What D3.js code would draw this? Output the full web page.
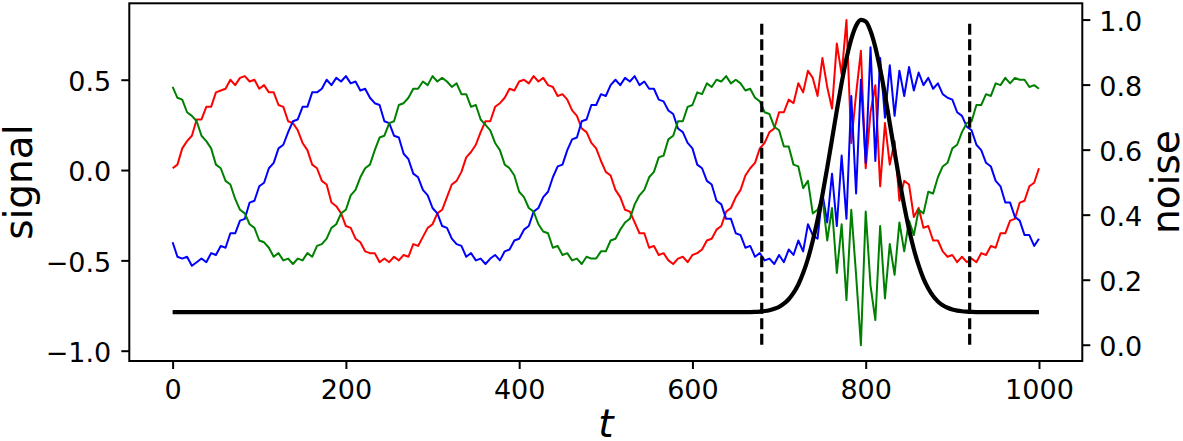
<!DOCTYPE html>
<html>
<head>
<meta charset="utf-8">
<script src="https://cdn.jsdelivr.net/npm/d3@7"></script>
<style>
    body { margin: 0; background: #fff; }
    svg { display: block; font-family: "DejaVu Sans", sans-serif; }
</style>
</head>
<body>
<svg width="1183" height="441"></svg>
<script>
// sample grid: 181 samples across t = 0..1000
var tValues = d3.range(181).map(i => i * 1000 / 180);

var redSignal = [
    0.01, 0.03, 0.12, 0.16, 0.19, 0.28, 0.28, 0.35, 0.35, 0.43,
    0.44, 0.45, 0.50, 0.47, 0.51, 0.52, 0.49, 0.50, 0.45, 0.47,
    0.43, 0.43, 0.36, 0.35, 0.27, 0.26, 0.22, 0.15, 0.11, 0.03,
    0.01, -0.06, -0.08, -0.18, -0.20, -0.24, -0.31, -0.32, -0.38, -0.40,
    -0.45, -0.46, -0.46, -0.51, -0.49, -0.51, -0.48, -0.50, -0.47, -0.48,
    -0.41, -0.42, -0.37, -0.32, -0.30, -0.24, -0.22, -0.15, -0.08, -0.06,
    -0.01, 0.07, 0.10, 0.14, 0.21, 0.27, 0.27, 0.35, 0.37, 0.40,
    0.45, 0.44, 0.49, 0.50, 0.48, 0.52, 0.49, 0.51, 0.47, 0.46,
    0.41, 0.42, 0.39, 0.33, 0.30, 0.23, 0.21, 0.15, 0.12, 0.05,
    -0.01, -0.03, -0.11, -0.15, -0.22, -0.23, -0.29, -0.35, -0.35, -0.43,
    -0.42, -0.47, -0.46, -0.50, -0.52, -0.49, -0.48, -0.51, -0.47, -0.46,
    -0.44, -0.39, -0.38, -0.33, -0.31, -0.23, -0.21, -0.15, -0.11, -0.03,
    0.01, 0.04, 0.12, 0.15, 0.21, 0.23, 0.32, 0.32, 0.39, 0.37,
    0.48, 0.43, 0.55, 0.51, 0.41, 0.62, 0.46, 0.34, 0.70, 0.53,
    0.83, 0.15, 0.42, 0.66, 0.01, 0.32, 0.47, -0.09, 0.26, 0.03,
    0.16, -0.17, -0.06, -0.08, -0.26, -0.21, -0.32, -0.31, -0.39, -0.39,
    -0.45, -0.48, -0.47, -0.51, -0.48, -0.51, -0.49, -0.51, -0.46, -0.47,
    -0.42, -0.43, -0.35, -0.35, -0.28, -0.27, -0.18, -0.17, -0.09, -0.07,
    0.01
];

var greenSignal = [
    0.46, 0.40, 0.39, 0.32, 0.30, 0.27, 0.19, 0.16, 0.12, 0.03,
    0.01, -0.06, -0.08, -0.16, -0.22, -0.24, -0.30, -0.32, -0.39, -0.40,
    -0.43, -0.48, -0.46, -0.50, -0.49, -0.52, -0.49, -0.50, -0.46, -0.48,
    -0.42, -0.41, -0.38, -0.32, -0.30, -0.24, -0.22, -0.14, -0.11, -0.04,
    0.01, 0.03, 0.11, 0.18, 0.19, 0.26, 0.27, 0.36, 0.37, 0.40,
    0.45, 0.45, 0.49, 0.47, 0.52, 0.49, 0.51, 0.49, 0.46, 0.48,
    0.42, 0.42, 0.35, 0.36, 0.28, 0.25, 0.22, 0.15, 0.11, 0.03,
    0.01, -0.03, -0.12, -0.15, -0.21, -0.23, -0.30, -0.34, -0.35, -0.43,
    -0.42, -0.47, -0.46, -0.50, -0.49, -0.52, -0.48, -0.49, -0.49, -0.45,
    -0.45, -0.39, -0.38, -0.33, -0.29, -0.27, -0.19, -0.14, -0.11, -0.04,
    -0.01, 0.07, 0.08, 0.17, 0.19, 0.27, 0.27, 0.35, 0.36, 0.43,
    0.42, 0.48, 0.46, 0.50, 0.49, 0.52, 0.48, 0.50, 0.48, 0.44,
    0.45, 0.40, 0.38, 0.32, 0.31, 0.24, 0.22, 0.13, 0.13, 0.03,
    0.02, -0.10, -0.06, -0.24, -0.22, -0.15, -0.39, -0.21, -0.57, -0.30,
    -0.72, -0.22, -0.58, -0.97, -0.23, -0.64, -0.83, -0.31, -0.71, -0.41,
    -0.58, -0.29, -0.45, -0.28, -0.36, -0.22, -0.24, -0.12, -0.13, -0.04,
    0.02, 0.04, 0.12, 0.14, 0.21, 0.26, 0.27, 0.36, 0.36, 0.42,
    0.41, 0.48, 0.47, 0.51, 0.48, 0.51, 0.50, 0.50, 0.46, 0.47,
    0.45
];

var blueSignal = [
    -0.40, -0.48, -0.49, -0.48, -0.53, -0.51, -0.49, -0.51, -0.46, -0.47,
    -0.42, -0.43, -0.35, -0.35, -0.28, -0.27, -0.18, -0.17, -0.09, -0.07,
    0.01, 0.04, 0.12, 0.14, 0.21, 0.27, 0.28, 0.35, 0.35, 0.43,
    0.43, 0.45, 0.50, 0.47, 0.51, 0.49, 0.52, 0.48, 0.49, 0.44,
    0.45, 0.40, 0.37, 0.36, 0.27, 0.26, 0.19, 0.18, 0.09, 0.06,
    -0.02, -0.04, -0.11, -0.14, -0.21, -0.24, -0.31, -0.32, -0.38, -0.41,
    -0.42, -0.48, -0.46, -0.50, -0.49, -0.52, -0.49, -0.47, -0.50, -0.45,
    -0.44, -0.39, -0.38, -0.33, -0.31, -0.23, -0.21, -0.15, -0.12, -0.04,
    0.02, 0.03, 0.11, 0.17, 0.18, 0.27, 0.28, 0.36, 0.36, 0.42,
    0.41, 0.47, 0.50, 0.47, 0.51, 0.49, 0.52, 0.47, 0.49, 0.45,
    0.45, 0.39, 0.38, 0.33, 0.31, 0.23, 0.21, 0.15, 0.12, 0.03,
    0.01, -0.06, -0.08, -0.17, -0.19, -0.27, -0.27, -0.35, -0.36, -0.43,
    -0.42, -0.48, -0.46, -0.50, -0.49, -0.52, -0.47, -0.51, -0.44, -0.47,
    -0.39, -0.45, -0.30, -0.36, -0.38, -0.13, -0.29, -0.02, -0.31, 0.08,
    -0.27, 0.41, -0.13, 0.50, 0.04, 0.68, 0.05, 0.62, 0.29, 0.58,
    0.30, 0.55, 0.41, 0.57, 0.44, 0.54, 0.47, 0.51, 0.45, 0.48,
    0.42, 0.40, 0.39, 0.32, 0.30, 0.24, 0.22, 0.14, 0.11, 0.04,
    0.02, -0.06, -0.09, -0.18, -0.18, -0.26, -0.28, -0.36, -0.36, -0.42,
    -0.38
];

// noise level on the right axis, same grid
var noiseLevel = [
    0.1, 0.1, 0.1, 0.1, 0.1, 0.1, 0.1, 0.1, 0.1, 0.1,
    0.1, 0.1, 0.1, 0.1, 0.1, 0.1, 0.1, 0.1, 0.1, 0.1,
    0.1, 0.1, 0.1, 0.1, 0.1, 0.1, 0.1, 0.1, 0.1, 0.1,
    0.1, 0.1, 0.1, 0.1, 0.1, 0.1, 0.1, 0.1, 0.1, 0.1,
    0.1, 0.1, 0.1, 0.1, 0.1, 0.1, 0.1, 0.1, 0.1, 0.1,
    0.1, 0.1, 0.1, 0.1, 0.1, 0.1, 0.1, 0.1, 0.1, 0.1,
    0.1, 0.1, 0.1, 0.1, 0.1, 0.1, 0.1, 0.1, 0.1, 0.1,
    0.1, 0.1, 0.1, 0.1, 0.1, 0.1, 0.1, 0.1, 0.1, 0.1,
    0.1, 0.1, 0.1, 0.1, 0.1, 0.1, 0.1, 0.1, 0.1, 0.1,
    0.1, 0.1, 0.1, 0.1, 0.1, 0.1, 0.1, 0.1, 0.1, 0.1,
    0.1, 0.1, 0.1, 0.1, 0.1, 0.1, 0.1, 0.1, 0.1, 0.1,
    0.1, 0.1, 0.1, 0.1, 0.1, 0.1, 0.1, 0.1, 0.1002, 0.1003,
    0.1006, 0.1012, 0.1021, 0.1037, 0.1063, 0.1104, 0.1167, 0.1263, 0.1399, 0.1593,
    0.1853, 0.2203, 0.2644, 0.3197, 0.3844, 0.4604, 0.5442, 0.6314, 0.721, 0.805,
    0.880, 0.940, 0.981, 0.999, 0.994, 0.965, 0.915, 0.848, 0.769, 0.681,
    0.593, 0.506, 0.427, 0.355, 0.2936, 0.244, 0.2035, 0.1731, 0.1498, 0.1333,
    0.1215, 0.1137, 0.1084, 0.1050, 0.1029, 0.1017, 0.1009, 0.1005, 0.1003, 0.1001,
    0.1, 0.1, 0.1, 0.1, 0.1, 0.1, 0.1, 0.1, 0.1, 0.1,
    0.1
];

var windowEdges = [680, 920];

var xTicks = [0, 200, 400, 600, 800, 1000];
var leftTicks = [-1.0, -0.5, 0.0, 0.5];
var rightTicks = [0.0, 0.2, 0.4, 0.6, 0.8, 1.0];

var svg = d3.select('svg');

// plot box
var plotLeft = 129.3, plotRight = 1082.3, plotTop = 3.3, plotBottom = 361;
var midY = (plotTop + plotBottom) / 2;

var xScale = d3.scaleLinear().domain([-50, 1050]).range([plotLeft, plotRight]);
var ySignal = d3.scaleLinear().domain([-1.057, 0.923]).range([plotBottom, plotTop]);
var yNoise = d3.scaleLinear().domain([-0.05, 1.05]).range([plotBottom, plotTop]);

var fmtMinus = f => (v => f(v).replace('-', '\u2212'));

//Axes
var xAxis = d3.axisBottom(xScale).tickValues(xTicks).tickSize(8).tickSizeOuter(0).tickPadding(11)
    .tickFormat(d3.format('d'));
var yAxisL = d3.axisLeft(ySignal).tickValues(leftTicks).tickSize(8).tickSizeOuter(0).tickPadding(10)
    .tickFormat(fmtMinus(d3.format('.1f')));
var yAxisR = d3.axisRight(yNoise).tickValues(rightTicks).tickSize(8).tickSizeOuter(0).tickPadding(9)
    .tickFormat(d3.format('.1f'));

var styleAxis = g => {
    g.select('.domain').remove();
    g.selectAll('.tick line').attr('stroke', '#000').attr('stroke-width', 2);
    g.selectAll('.tick text')
        .attr('fill', '#000')
        .attr('font-size', 27)
        .attr('font-family', '"DejaVu Sans", sans-serif');
};

svg.append('g').attr('transform', `translate(0,${plotBottom})`).call(xAxis).call(styleAxis);
svg.append('g').attr('transform', `translate(${plotLeft},0)`).call(yAxisL).call(styleAxis)
    .selectAll('.tick text').attr('dy', '0.40em');
svg.append('g').attr('transform', `translate(${plotRight},0)`).call(yAxisR).call(styleAxis)
    .selectAll('.tick text').attr('dy', '0.40em');

//Signal lines
var signalLine = d3.line()
    .x((d, i) => xScale(tValues[i]))
    .y(d => ySignal(d));

var series = [
    {values: redSignal, color: '#ff0000'},
    {values: blueSignal, color: '#0000ff'},
    {values: greenSignal, color: '#008000'}
];

svg.append('g').selectAll('path')
    .data(series)
    .enter().append('path')
    .attr('d', d => signalLine(d.values))
    .attr('fill', 'none')
    .attr('stroke', d => d.color)
    .attr('stroke-width', 2)
    .attr('stroke-linejoin', 'round');

//Noise level curve
var noiseLine = d3.line()
    .curve(d3.curveMonotoneX)
    .x((d, i) => xScale(tValues[i]))
    .y(d => yNoise(d));

svg.append('path')
    .attr('d', noiseLine(noiseLevel))
    .attr('fill', 'none')
    .attr('stroke', '#000')
    .attr('stroke-width', 4.2);

//Dashed window edges
svg.append('g').selectAll('line')
    .data(windowEdges)
    .enter().append('line')
    .attr('x1', d => xScale(d)).attr('x2', d => xScale(d))
    .attr('y1', yNoise(0)).attr('y2', yNoise(1))
    .attr('stroke', '#000')
    .attr('stroke-width', 3.2)
    .attr('stroke-dasharray', '11,4.5');

//Frame
svg.append('rect')
    .attr('x', plotLeft).attr('y', plotTop)
    .attr('width', plotRight - plotLeft).attr('height', plotBottom - plotTop)
    .attr('fill', 'none')
    .attr('stroke', '#000')
    .attr('stroke-width', 2);

//Axis labels
svg.append('text')
    .attr('transform', `translate(32,${midY}) rotate(-90)`)
    .attr('text-anchor', 'middle')
    .attr('font-size', 39)
    .text('signal');

svg.append('text')
    .attr('transform', `translate(1179,${midY}) rotate(-90)`)
    .attr('text-anchor', 'middle')
    .attr('font-size', 39)
    .text('noise');

svg.append('text')
    .attr('x', (plotLeft + plotRight) / 2)
    .attr('y', 437)
    .attr('text-anchor', 'middle')
    .attr('font-size', 39)
    .attr('font-style', 'italic')
    .text('t');
</script>
</body>
</html>
